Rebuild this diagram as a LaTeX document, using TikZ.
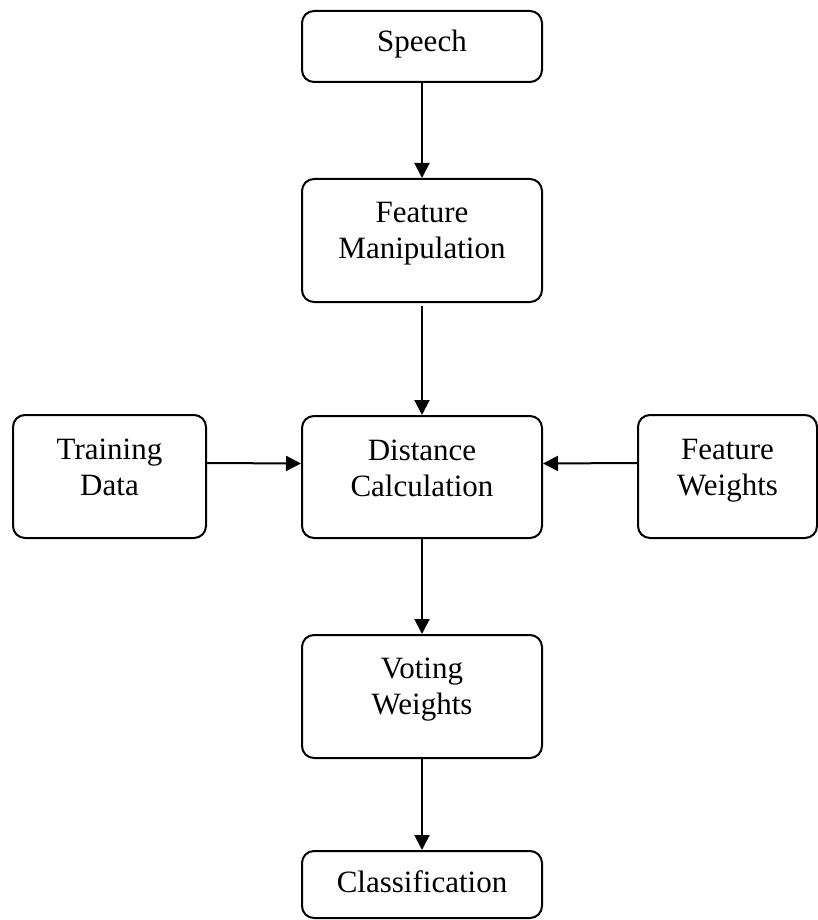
\documentclass[tikz,border=0pt]{standalone}
\usepackage{fontspec}
\setmainfont{Liberation Serif}
\usetikzlibrary{arrows.meta}

\begin{document}
\begin{tikzpicture}[x=1pt, y=-1pt,
  stage/.style={draw=black, line width=2pt, rounded corners=12pt,
    inner sep=0pt, minimum width=240pt},
  caption/.style={anchor=base, inner sep=0pt,
    font=\fontsize{31}{36}\selectfont},
  flow/.style={line width=2pt, -{Triangle[length=15pt, width=15pt]}}
]
\useasboundingbox (0,0) rectangle (818,920);

% boxes
\node[stage, minimum height=71pt]  (speech) at (422,46.5) {};
\node[stage, minimum height=123pt] (fm)     at (422,240.5) {};
\node[stage, minimum height=122pt] (dc)     at (422,477) {};
\node[stage, minimum height=123pt, minimum width=193pt] (train) at (109.5,476.5) {};
\node[stage, minimum height=123pt, minimum width=179pt] (fw)    at (727.5,476.5) {};
\node[stage, minimum height=123pt] (vote)   at (422,696.5) {};
\node[stage, minimum height=67pt]  (cls)    at (422,884.5) {};

% box texts
\node[caption] at ([yshift=-42pt]speech.north) {Speech};
\node[caption] at ([yshift=-44pt]fm.north)
  {\begin{tabular}[t]{@{}c@{}}Feature\\Manipulation\end{tabular}};
\node[caption] at ([yshift=-45pt]dc.north)
  {\begin{tabular}[t]{@{}c@{}}Distance\\Calculation\end{tabular}};
\node[caption] at ([yshift=-45pt]train.north)
  {\begin{tabular}[t]{@{}c@{}}Training\\Data\end{tabular}};
\node[caption] at ([yshift=-45pt]fw.north)
  {\begin{tabular}[t]{@{}c@{}}Feature\\Weights\end{tabular}};
\node[caption] at ([yshift=-44pt]vote.north)
  {\begin{tabular}[t]{@{}c@{}}Voting\\Weights\end{tabular}};
\node[caption] at ([yshift=-42pt]cls.north) {Classification};

% connectors
\draw[flow] (speech.south) -- (fm.north);
\draw[flow] ([yshift=-3pt]fm.south) -- (dc.north);
\draw[flow] (dc.south) -- (vote.north);
\draw[flow] (vote.south) -- (cls.north);
\draw[flow] ([yshift=13.5pt]train.east) -- ([yshift=13.5pt]dc.west);
\draw[flow] ([yshift=13.5pt]fw.west) -- ([yshift=13.5pt]dc.east);
\end{tikzpicture}
\end{document}
